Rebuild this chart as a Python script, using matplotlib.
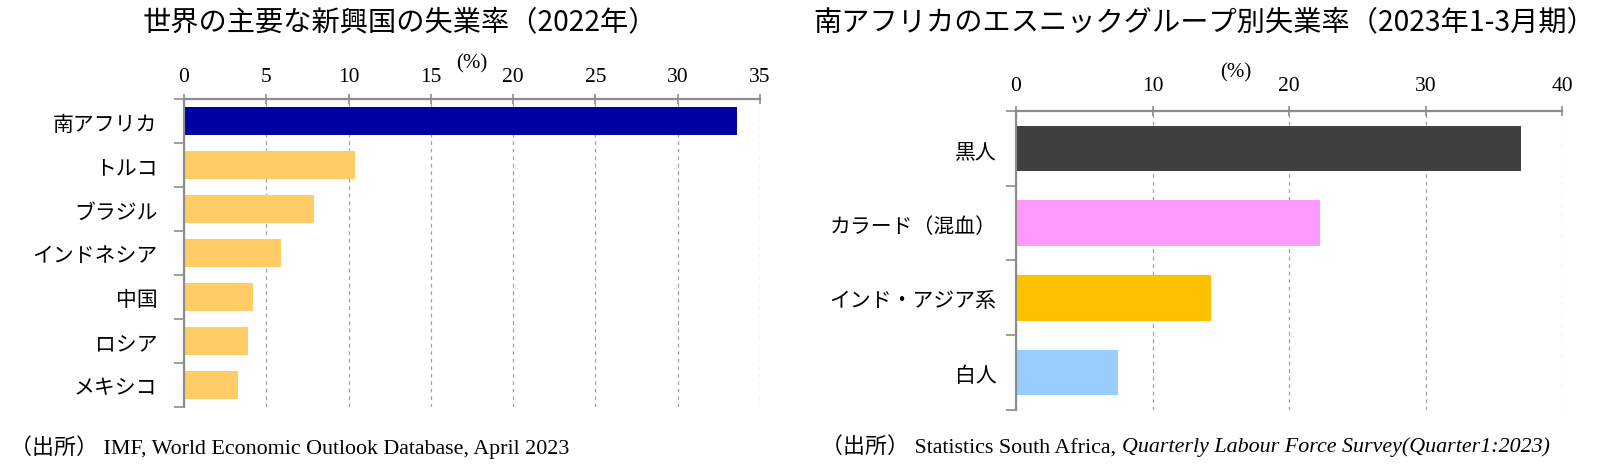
import matplotlib
matplotlib.use('Agg')
import numpy as np
import matplotlib.pyplot as plt

# Left: unemployment in major emerging economies (2022)
countries = ['南アフリカ', 'トルコ', 'ブラジル', 'インドネシア', '中国', 'ロシア', 'メキシコ']
country_rates = [33.6, 10.4, 7.9, 5.9, 4.2, 3.9, 3.3]
country_colors = ['#00009F'] + ['#FFCC66'] * 6
left_ticks = [0, 5, 10, 15, 20, 25, 30, 35]

# Right: South Africa unemployment by ethnic group (2023 Q1)
groups = ['黒人', 'カラード（混血）', 'インド・アジア系', '白人']
group_rates = [37.0, 22.3, 14.3, 7.5]
group_colors = ['#404040', '#FF99FF', '#FFC000', '#99CCFF']
right_ticks = [0, 10, 20, 30, 40]

CJK = ['Noto Sans CJK JP', 'DejaVu Sans']
SERIF = ['Liberation Serif', 'Noto Sans CJK JP']
SPINE = '#8C8C8C'

fig = plt.figure(figsize=(16, 4.77), dpi=100)


def draw_panel(ax, labels, values, colors, ticks, bar_h, tick_pad, label_pad, pct_x, pct_y):
    n = len(labels)
    y = np.arange(n)
    ax.barh(y, values, height=bar_h, color=colors, zorder=3)
    ax.set_xlim(ticks[0], ticks[-1])
    ax.set_ylim(n - 0.5, -0.5)

    # top axis with dashed grid
    ax.xaxis.tick_top()
    ax.set_xticks(ticks)
    ax.set_xticklabels([str(t) for t in ticks], family=SERIF, fontsize=15.5)
    ax.tick_params(axis='x', direction='inout', length=7, width=1.2,
                   color=SPINE, pad=tick_pad)
    ax.grid(axis='x', linestyle=(0, (3, 3)), color='#A0A0A0', linewidth=0.9, zorder=0)

    # category labels and boundary ticks
    ax.set_yticks(y)
    ax.set_yticklabels(labels, family=CJK, fontsize=15)
    ax.tick_params(axis='y', which='major', length=0, pad=label_pad)
    ax.set_yticks(np.arange(n + 1) - 0.5, minor=True)
    ax.tick_params(axis='y', which='minor', direction='out', length=7,
                   width=1.2, color=SPINE)

    for side in ['right', 'bottom']:
        ax.spines[side].set_visible(False)
    for side in ['top', 'left']:
        ax.spines[side].set_color(SPINE)
        ax.spines[side].set_linewidth(1.6)
        ax.spines[side].set_zorder(4)

    ax.text(pct_x, pct_y, '(%)', transform=ax.transAxes, ha='center', va='bottom',
            family=SERIF, fontsize=15)


ax1 = fig.add_axes([0.115, 0.1447, 0.36, 0.6457])
draw_panel(ax1, countries, country_rates, country_colors, left_ticks,
           0.65, 6, 19, 0.5, 1.085)

ax2 = fig.add_axes([0.635, 0.1384, 0.34125, 0.6268])
draw_panel(ax2, groups, group_rates, group_colors, right_ticks,
           0.61, 8, 14, 0.403, 1.10)

# titles
fig.text(400 / 1600, 1 - 22 / 477, '世界の主要な新興国の失業率（2022年）',
         ha='center', va='center', family=CJK, fontsize=20.3)
fig.text(1204 / 1600, 1 - 22 / 477, '南アフリカのエスニックグループ別失業率（2023年1-3月期）',
         ha='center', va='center', family=CJK, fontsize=20.3)

# sources
fig.text(10 / 1600, 1 - 447 / 477, '（出所） IMF, World Economic Outlook Database, April 2023',
         ha='left', va='center', family=SERIF, fontsize=15.8)
src = fig.text(821 / 1600, 1 - 447 / 477, '（出所） Statistics South Africa, ',
               ha='left', va='center', family=SERIF, fontsize=15.8)
fig.canvas.draw()
plt.annotate('Quarterly Labour Force Survey(Quarter1:2023)', xy=(1, 0.5), xycoords=src,
             ha='left', va='center', family=SERIF, fontsize=15.8, style='italic',
             annotation_clip=False)

fig.savefig('out.png', dpi=100)
